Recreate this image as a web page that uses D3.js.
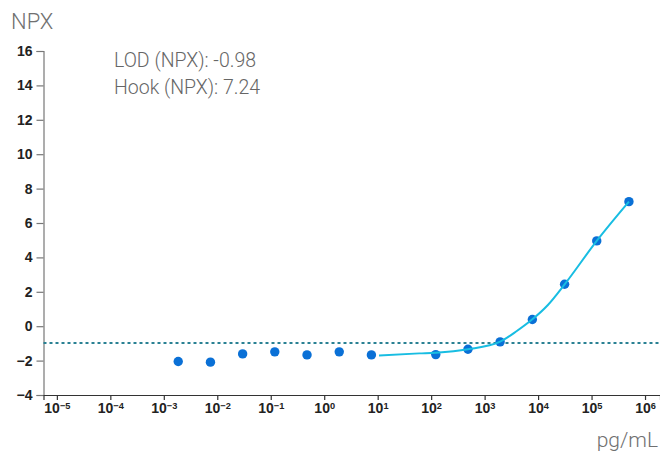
<!DOCTYPE html>
<html>
<head>
<meta charset="utf-8">
<script src="https://cdn.jsdelivr.net/npm/d3@7"></script>
<style>
  html, body { margin: 0; padding: 0; background: #fff; }
  svg { display: block; }
</style>
</head>
<body>
<svg id="chart" width="660" height="451"></svg>
<script>
// Measured standards: concentration (pg/mL) and NPX response
const conc = [0.00186, 0.00745, 0.0298, 0.119, 0.477, 1.91, 7.63, 122, 488, 1950, 7810, 31300, 125000, 500000];
const npx  = [-2.05, -2.09, -1.61, -1.49, -1.67, -1.49, -1.67, -1.65, -1.34, -0.91, 0.39, 2.44, 4.96, 7.24];

// Fitted standard curve
const fitConc = [10.6, 60, 122, 488, 1950, 4000, 7810, 15100, 31300, 125000, 500000];
const fitNpx  = [-1.70, -1.58, -1.54, -1.34, -0.90, -0.28, 0.40, 1.22, 2.43, 4.96, 7.24];

// Reference levels
const lod = -0.98;
const hook = 7.24;

// Axis ticks
const xTicks = [1e-5, 1e-4, 1e-3, 1e-2, 1e-1, 1e0, 1e1, 1e2, 1e3, 1e4, 1e5, 1e6];
const yTicks = [-4, -2, 0, 2, 4, 6, 8, 10, 12, 14, 16];

const svg = d3.select("#chart");
const plotLeft = 43.5, plotRight = 660, plotTop = 51, plotBottom = 395;

const x = d3.scaleLog().domain([Math.pow(10, -5.25), Math.pow(10, 6.28)]).range([plotLeft, plotRight]);
const y = d3.scaleLinear().domain([-4, 16]).range([plotBottom, plotTop]);

const tickFont = "'Liberation Sans', Arial, sans-serif";
const labelFont = "Roboto, 'Open Sans', sans-serif";

// Y axis
const gy = svg.append("g")
  .attr("transform", `translate(${plotLeft},0)`)
  .call(d3.axisLeft(y).tickValues(yTicks).tickSize(7).tickPadding(4));
gy.select(".domain").attr("stroke", "#777").attr("stroke-width", 1.2);
gy.selectAll(".tick line").attr("stroke", "#777").attr("stroke-width", 1.2);
gy.selectAll(".tick text")
  .attr("font-family", tickFont).attr("font-weight", "bold")
  .attr("font-size", 14).attr("fill", "#222");

// X axis with power-of-ten labels
const gx = svg.append("g")
  .attr("transform", `translate(0,${plotBottom})`)
  .call(d3.axisBottom(x).tickValues(xTicks).tickSize(5).tickPadding(3).tickFormat(() => ""));
gx.select(".domain").attr("stroke", "#333").attr("stroke-width", 1.2);
gx.selectAll(".tick line").attr("stroke", "#333").attr("stroke-width", 1.2);
gx.selectAll(".tick text")
  .attr("font-family", tickFont).attr("font-weight", "bold")
  .attr("font-size", 14).attr("fill", "#222")
  .each(function(d) {
    const t = d3.select(this);
    const e = Math.round(Math.log10(d));
    t.text(null);
    t.append("tspan").text("10");
    t.append("tspan").attr("dy", "-0.45em").attr("font-size", "0.66em")
      .text(e < 0 ? "\u2212" + (-e) : String(e));
  });

// LOD reference line
svg.append("line")
  .attr("x1", plotLeft).attr("x2", plotRight)
  .attr("y1", y(lod)).attr("y2", y(lod))
  .attr("stroke", "#2a8193").attr("stroke-width", 2)
  .attr("stroke-dasharray", "3,3");

// Standard points
svg.append("g").selectAll("circle")
  .data(conc.map((c, i) => [c, npx[i]]))
  .join("circle")
  .attr("cx", d => x(d[0])).attr("cy", d => y(d[1]))
  .attr("r", 4.7).attr("fill", "#0a70d6");

// Fitted curve
const line = d3.line().x(d => x(d[0])).y(d => y(d[1])).curve(d3.curveMonotoneX);
svg.append("path")
  .datum(fitConc.map((c, i) => [c, fitNpx[i]]))
  .attr("d", line)
  .attr("fill", "none").attr("stroke", "#18bde2").attr("stroke-width", 2);

// Axis titles
svg.append("text").attr("x", 11).attr("y", 29)
  .attr("font-family", labelFont).attr("font-weight", 300).attr("font-size", 22).attr("fill", "#707070")
  .text("NPX");
svg.append("text").attr("x", 658).attr("y", 447).attr("text-anchor", "end")
  .attr("font-family", labelFont).attr("font-weight", 300).attr("font-size", 21).attr("fill", "#707070")
  .text("pg/mL");

// Annotation
const note = svg.append("g").attr("font-family", labelFont).attr("font-weight", 300)
  .attr("font-size", 19.5).attr("fill", "#666");
note.append("text").attr("x", 114).attr("y", 67).text(`LOD (NPX): ${lod.toFixed(2)}`);
note.append("text").attr("x", 114).attr("y", 94).text(`Hook (NPX): ${hook.toFixed(2)}`);
</script>
</body>
</html>
